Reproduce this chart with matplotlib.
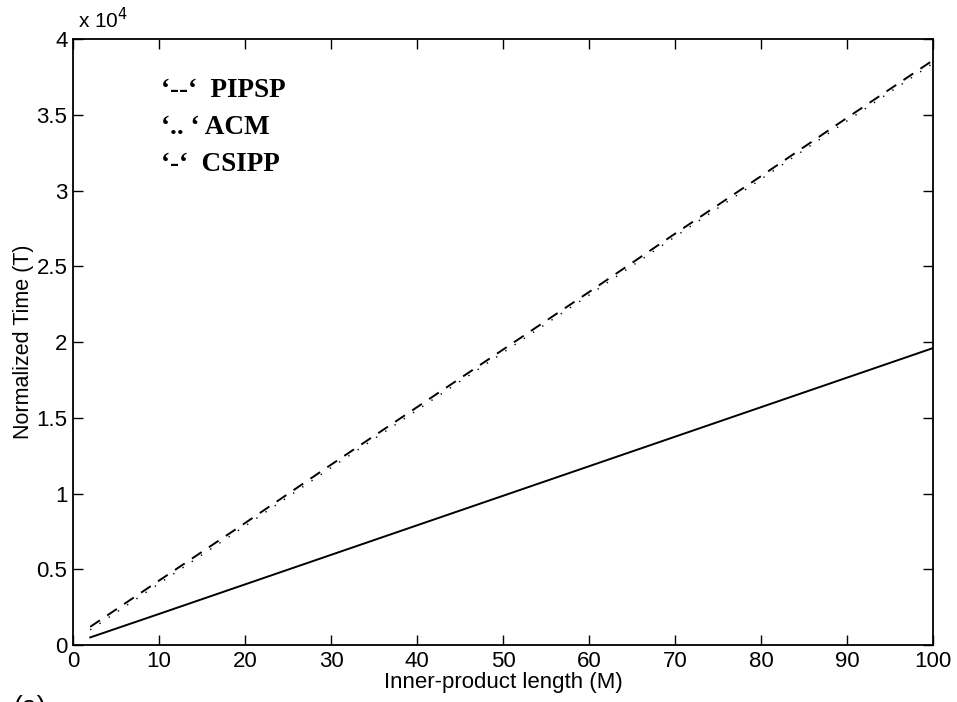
"""Normalized time vs inner-product length for PIPSP, ACM and CSIPP."""
import matplotlib
matplotlib.use("Agg")
import matplotlib.pyplot as plt

# inner-product length (M)
m_vals = [2, 10, 20, 30, 40, 50, 60, 70, 80, 90, 100]

# normalized time (T)
t_pipsp = [1200, 4250, 8050, 11900, 15700, 19500, 23300, 27150, 30950, 34800, 38600]
t_acm = [1000, 4050, 7850, 11700, 15500, 19300, 23100, 26950, 30750, 34600, 38400]
t_csipp = [500, 2050, 4000, 5950, 7900, 9850, 11800, 13750, 15700, 17650, 19600]

x_ticks = [0, 10, 20, 30, 40, 50, 60, 70, 80, 90, 100]
y_ticks = [0, 5000, 10000, 15000, 20000, 25000, 30000, 35000, 40000]
y_tick_labels = ["0", "0.5", "1", "1.5", "2", "2.5", "3", "3.5", "4"]

legend_lines = ["\u2018--\u2018  PIPSP", "\u2018.. \u2018 ACM", "\u2018-\u2018  CSIPP"]

plt.rcParams["font.family"] = ["Liberation Sans", "DejaVu Sans"]

fig = plt.figure(figsize=(9.57, 7.02), dpi=100)
ax = fig.add_axes([0.0763, 0.0812, 0.975 - 0.0763, 0.9444 - 0.0812])

ax.plot(m_vals, t_pipsp, color="black", lw=1.4, dashes=(6, 4.5))
ax.plot(m_vals, t_acm, color="black", lw=1.0, dashes=(1, 7))
ax.plot(m_vals, t_csipp, color="black", lw=1.4)

ax.set_xlim(0, 100)
ax.set_ylim(0, 40000)
ax.set_xticks(x_ticks)
ax.set_yticks(y_ticks)
ax.set_yticklabels(y_tick_labels)
ax.tick_params(direction="in", top=True, right=True, length=7, width=1,
               labelsize=16, colors="black", pad=4)
for s in ax.spines.values():
    s.set_linewidth(1.3)

ax.set_xlabel("Inner-product length (M)", fontsize=16, labelpad=0)
ax.set_ylabel("Normalized Time (T)", fontsize=15.5, labelpad=2)

fig.text(0.081, 0.972, r"x 10$^4$", fontsize=15, ha="left", va="center")

for i, txt in enumerate(legend_lines):
    ax.text(0.102, 0.905 - i * 0.061, txt, transform=ax.transAxes,
            family=["Liberation Serif", "DejaVu Serif"], fontweight="bold",
            fontsize=19.5, ha="left", va="baseline")

fig.text(0.014, 1 - 695 / 702, "(a)", fontsize=19, ha="left", va="top")

fig.savefig("out.png", dpi=100)
